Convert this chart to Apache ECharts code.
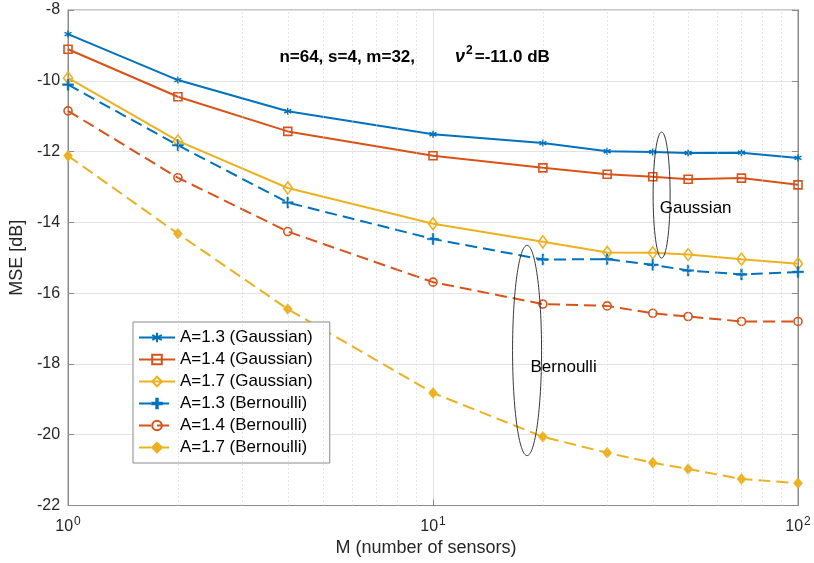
<!DOCTYPE html>
<html><head><meta charset="utf-8">
<script src="https://cdn.jsdelivr.net/npm/echarts@6/dist/echarts.min.js"></script>
<style>html,body{margin:0;padding:0;background:#fff}#c{width:814px;height:563px}</style>
</head><body><div id="c"></div>
<script>
const M = [1, 2, 4, 10, 20, 30, 40, 50, 70, 100];
const gauss13 = [-8.68, -9.98, -10.86, -11.51, -11.76, -11.99, -12.01, -12.04, -12.03, -12.18];
const gauss14 = [-9.11, -10.45, -11.43, -12.12, -12.46, -12.64, -12.71, -12.78, -12.75, -12.94];
const gauss17 = [-9.92, -11.70, -13.03, -14.04, -14.55, -14.85, -14.86, -14.91, -15.04, -15.17];
const bern13 = [-10.11, -11.82, -13.44, -14.47, -15.05, -15.04, -15.20, -15.36, -15.47, -15.40];
const bern14 = [-10.85, -12.74, -14.26, -15.69, -16.31, -16.36, -16.57, -16.66, -16.80, -16.80];
const bern17 = [-12.12, -14.32, -16.45, -18.82, -20.06, -20.51, -20.79, -20.97, -21.25, -21.37];
const seriesNames = ['A=1.3 (Gaussian)', 'A=1.4 (Gaussian)', 'A=1.7 (Gaussian)',
                     'A=1.3 (Bernoulli)', 'A=1.4 (Bernoulli)', 'A=1.7 (Bernoulli)'];
const minorX = [2, 3, 4, 5, 6, 7, 8, 9, 20, 30, 40, 50, 60, 70, 80, 90];
const xTickValues = [1, 10, 100];
const xTickExponents = ['0', '1', '2'];
const yMin = -22, yMax = -8, yStep = 2;

const BLUE = '#0072BD', RED = '#D95319', YEL = '#EDB120';
const FONT = 'Liberation Sans, Arial, sans-serif';
const asterisk = 'path://M0,-5L0,5M-4.3,-2.5L4.3,2.5M-4.3,2.5L4.3,-2.5';
const plus = 'path://M-0.9,-6L0.9,-6L0.9,-0.9L6,-0.9L6,0.9L0.9,0.9L0.9,6L-0.9,6L-0.9,0.9L-6,0.9L-6,-0.9L-0.9,-0.9Z';

function pts(arr){ return M.map((m,i)=>[m, arr[i]]); }
function mk(name, data, color, dashed, symbol, size, fillSym, extra){
  return Object.assign({
    name, type:'line', data: pts(data), symbol, symbolSize: size,
    lineStyle:{color, width:2, type: dashed ? [12,6] : 'solid'},
    itemStyle: fillSym ? {color, borderColor: color, borderWidth: 0.5} :
                         {color:'rgba(255,255,255,0)', borderColor: color, borderWidth: 1.6},
    emphasis:{disabled:true}, animation:false, z: 3
  }, extra || {});
}

const chart = echarts.init(document.getElementById('c'), null, {renderer:'canvas'});
const series = [
  mk(seriesNames[0], gauss13, BLUE, false, asterisk, [7,7], false, {itemStyle:{color:BLUE,borderColor:BLUE,borderWidth:1.5}}),
  mk(seriesNames[1], gauss14, RED, false, 'rect', 8, false),
  mk(seriesNames[2], gauss17, YEL, false, 'diamond', [9,12], false),
  mk(seriesNames[3], bern13, BLUE, true, plus, 11, true),
  mk(seriesNames[4], bern14, RED, true, 'circle', 8, false),
  mk(seriesNames[5], bern17, YEL, true, 'diamond', [9,11], true),
];
series[0].markLine = {
  silent:true, symbol:'none', animation:false, label:{show:false},
  lineStyle:{type:[1,3], color:'#cfcfcf', width:1},
  data: minorX.map(v=>({xAxis:v}))
};

chart.setOption({
  backgroundColor:'#fff',
  animation:false,
  grid:{left:68, right:16, top:10, bottom:57.5, show:true, borderColor:'#8a8a8a', borderWidth:1, backgroundColor:'transparent'},
  legend:{
    orient:'vertical', left:133, top:322, padding:[7,17,7,5], itemGap:5,
    itemWidth:36, itemHeight:12, backgroundColor:'#fff', borderColor:'#8a8a8a', borderWidth:1,
    textStyle:{fontFamily:FONT, fontSize:17, color:'#000'}, data: seriesNames, selectedMode:false
  },
  xAxis:{
    type:'log', logBase:10, min:1, max:100,
    name:'M (number of sensors)', nameLocation:'middle', nameGap:33,
    nameTextStyle:{fontFamily:FONT, fontSize:18, color:'#262626', padding:[0,14,0,0]},
    axisLine:{show:true, lineStyle:{color:'#8a8a8a'}},
    axisTick:{inside:true, length:6, lineStyle:{color:'#8a8a8a'}},
    splitLine:{show:true, lineStyle:{color:'#e3e3e3', width:1}},
    axisLabel:{
      margin:10, color:'#262626',
      formatter:function(v){ const i = xTickValues.indexOf(v); return i<0 ? '' : '{b|10}{s|' + xTickExponents[i] + '}'; },
      rich:{ b:{fontFamily:FONT, fontSize:16, color:'#262626'}, s:{fontFamily:FONT, fontSize:12, color:'#262626', padding:[0,0,10,1]} }
    }
  },
  yAxis:[{
    type:'value', min:yMin, max:yMax, interval:yStep,
    name:'MSE [dB]', nameLocation:'middle', nameGap:38, nameRotate:90,
    nameTextStyle:{fontFamily:FONT, fontSize:18, color:'#262626'},
    axisLine:{show:true, lineStyle:{color:'#8a8a8a'}},
    axisTick:{show:true, inside:true, length:6, lineStyle:{color:'#8a8a8a'}},
    splitLine:{show:true, lineStyle:{color:'#e3e3e3', width:1}},
    axisLabel:{fontFamily:FONT, fontSize:16, color:'#262626', margin:8}
  },{
    type:'value', min:yMin, max:yMax, interval:yStep, position:'right',
    axisLine:{show:true, lineStyle:{color:'#8a8a8a'}},
    axisTick:{show:true, inside:true, length:6, lineStyle:{color:'#8a8a8a'}},
    splitLine:{show:false}, axisLabel:{show:false}
  }],
  series
});

function px(x, y){ return chart.convertToPixel({xAxisIndex:0, yAxisIndex:0}, [x, y]); }
const g1c = px(42.3, -13.23), g1t = px(42.3, -11.45);
const b1c = px(18.1, -17.62), b1t = px(18.1, -14.65);
const gLab = px(41.8, -13.6), bLab = px(18.5, -18.1);
const t1 = px(3.2, -9.33);
chart.setOption({
  graphic:[
    {type:'ellipse', z:10, silent:true, shape:{cx:g1c[0], cy:g1c[1], rx:8.5, ry:g1c[1]-g1t[1]}, style:{fill:'none', stroke:'#222', lineWidth:0.9}},
    {type:'ellipse', z:10, silent:true, shape:{cx:b1c[0], cy:b1c[1], rx:14.5, ry:b1c[1]-b1t[1]}, style:{fill:'none', stroke:'#222', lineWidth:0.9}},
    {type:'text', z:10, silent:true, x:gLab[0], y:gLab[1], style:{text:'Gaussian', font:'17px ' + FONT, fill:'#000', verticalAlign:'middle'}},
    {type:'text', z:10, silent:true, x:bLab[0], y:bLab[1], style:{text:'Bernoulli', font:'17px ' + FONT, fill:'#000', verticalAlign:'middle'}},
    {type:'text', z:10, silent:true, x:t1[0] + 27, y:t1[1], style:{
      text:'{a|n=64, s=4, m=32,}{sp|}{n|ν}{s|2}{a|=-11.0 dB}', verticalAlign:'middle',
      rich:{
        a:{fontFamily:FONT, fontSize:17, fontWeight:'bold', fill:'#000'},
        sp:{width:40},
        n:{fontFamily:FONT, fontSize:18, fontWeight:'bold', fontStyle:'italic', fill:'#000'},
        s:{fontFamily:FONT, fontSize:12, fontWeight:'bold', fill:'#000', padding:[0,2,12,1]}
      }
    }}
  ]
});
</script></body></html>
